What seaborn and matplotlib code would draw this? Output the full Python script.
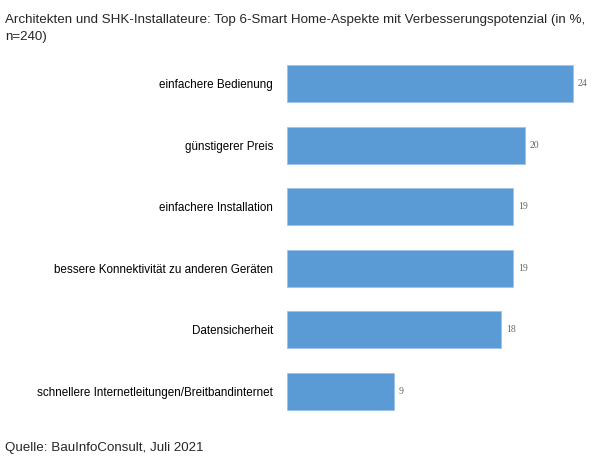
import pandas as pd
import seaborn as sns
import matplotlib.pyplot as plt

# Data
aspects = [
    "einfachere Bedienung",
    "günstigerer Preis",
    "einfachere Installation",
    "bessere Konnektivität zu anderen Geräten",
    "Datensicherheit",
    "schnellere Internetleitungen/Breitbandinternet",
]
shares = [24, 20, 19, 19, 18, 9]

df = pd.DataFrame({"aspect": aspects, "share": shares})

sns.set_style("white")
plt.rcParams["font.family"] = ["Liberation Sans", "DejaVu Sans"]

fig = plt.figure(figsize=(5.98, 4.58), dpi=100)
ax = fig.add_axes([0.48, 0.078, 0.52, 0.807])

sns.barplot(data=df, x="share", y="aspect", color="#5B9BD5", width=0.6,
            saturation=1, ax=ax, edgecolor="#9DC3E6", linewidth=0.6)

ax.set_xlim(0, 26.1)
ax.set_ylim(5.5, -0.5)
ax.set_xlabel("")
ax.set_ylabel("")
ax.set_xticks([])
ax.tick_params(axis="y", length=0, pad=10, labelsize=8.4, labelcolor="black")
sns.despine(ax=ax, left=True, bottom=True)

for i, v in enumerate(shares):
    ax.text(v + 0.4, i, str(v), va="center", ha="left", fontsize=7,
            color="#666666", family="Liberation Serif")

# title in two lines, baselines placed as in the reference
fig.text(0.009, 1 - 23.5 / 458, "Architekten und SHK-Installateure: Top 6-Smart Home-Aspekte mit "
         "Verbesserungspotenzial (in %,", ha="left", va="baseline", fontsize=9.6)
fig.text(0.009, 1 - 40 / 458, "n=240)", ha="left", va="baseline", fontsize=9.6)
fig.text(0.009, 7 / 458, "Quelle: BauInfoConsult, Juli 2021", ha="left", va="baseline",
         fontsize=9.6)

fig.savefig("out.png", dpi=100)
